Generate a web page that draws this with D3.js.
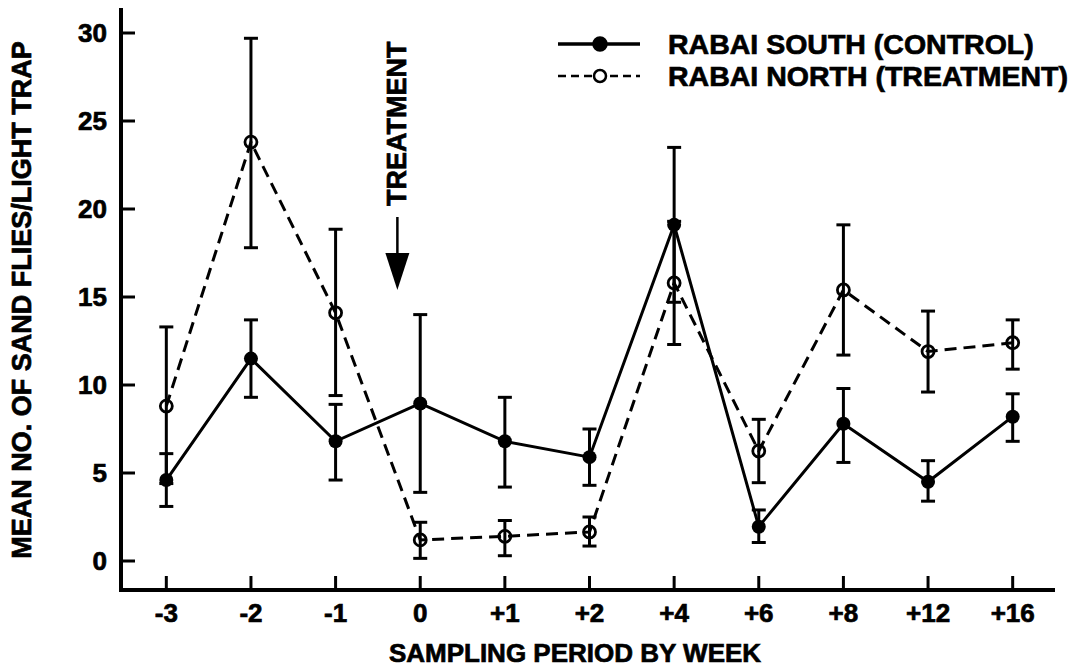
<!DOCTYPE html>
<html lang="en">
<head>
    <meta charset="UTF-8">
    <title>Sand flies per light trap</title>
    <script src="https://d3js.org/d3.v7.min.js"></script>
    <style>
        body { margin: 0; background: #fff; }
        text { font-family: "Liberation Sans", Arial, sans-serif; font-weight: bold; fill: #000; stroke: #000; stroke-width: 0.7px; }
    </style>
</head>
<body>
<div id="chart"></div>
<script type="text/javascript">
    // sampling periods (weeks relative to treatment)
    var weeks = ["-3", "-2", "-1", "0", "+1", "+2", "+4", "+6", "+8", "+12", "+16"];

    // Rabai South (control) - mean and error bar ends
    var southMean = [4.6, 11.5, 6.8, 8.95, 6.8, 5.9, 19.1, 1.95, 7.8, 4.5, 8.2];
    var southLow  = [3.1, 9.3, 4.6, 3.9, 4.2, 4.3, 14.7, 1.05, 5.6, 3.4, 6.8];
    var southHigh = [6.1, 13.7, 8.9, 14.0, 9.3, 7.5, 23.5, 2.9, 9.8, 5.7, 9.5];

    // Rabai North (treatment)
    var northMean = [8.8, 23.8, 14.1, 1.2, 1.4, 1.65, 15.8, 6.25, 15.4, 11.9, 12.4];
    var northLow  = [4.4, 17.8, 9.4, 0.15, 0.3, 0.85, 12.3, 4.45, 11.7, 9.6, 10.9];
    var northHigh = [13.3, 29.7, 18.85, 2.2, 2.3, 2.5, 19.3, 8.05, 19.1, 14.2, 13.7];

    var yTicks = [0, 5, 10, 15, 20, 25, 30];

    var width = 1079;
    var height = 670;

    var svg = d3.select("#chart")
        .append("svg")
        .attr("width", width)
        .attr("height", height);

    // scales
    var x = d3.scalePoint()
        .domain(weeks)
        .range([124, 1055])
        .padding(0.5);

    var y = d3.scaleLinear()
        .domain([0, 30])
        .range([561, 33]);

    var axisX0 = 121, axisY0 = 590;

    // axes lines
    svg.append("line")
        .attr("x1", axisX0).attr("x2", axisX0)
        .attr("y1", 8).attr("y2", axisY0 + 2)
        .attr("stroke", "#000").attr("stroke-width", 4);
    svg.append("line")
        .attr("x1", axisX0 - 2).attr("x2", 1055)
        .attr("y1", axisY0).attr("y2", axisY0)
        .attr("stroke", "#000").attr("stroke-width", 4);

    // y ticks + labels
    var yAxis = svg.append("g").attr("class", "y axis");
    yAxis.selectAll("line")
        .data(yTicks).enter()
        .append("line")
        .attr("x1", axisX0).attr("x2", axisX0 + 14)
        .attr("y1", function(d) { return y(d); })
        .attr("y2", function(d) { return y(d); })
        .attr("stroke", "#000").attr("stroke-width", 3);
    yAxis.selectAll("text")
        .data(yTicks).enter()
        .append("text")
        .attr("x", 107)
        .attr("y", function(d) { return y(d) + 9; })
        .attr("text-anchor", "end")
        .style("font-size", "26px")
        .text(function(d) { return d; });

    // x ticks + labels
    var xAxis = svg.append("g").attr("class", "x axis");
    xAxis.selectAll("line")
        .data(weeks).enter()
        .append("line")
        .attr("x1", function(d) { return x(d); })
        .attr("x2", function(d) { return x(d); })
        .attr("y1", axisY0).attr("y2", axisY0 - 14)
        .attr("stroke", "#000").attr("stroke-width", 3);
    xAxis.selectAll("text")
        .data(weeks).enter()
        .append("text")
        .attr("x", function(d) { return x(d); })
        .attr("y", 622)
        .attr("text-anchor", "middle")
        .style("font-size", "26px")
        .text(function(d) { return d; });

    // axis titles
    svg.append("text")
        .attr("x", 575)
        .attr("y", 662)
        .attr("text-anchor", "middle")
        .style("font-size", "26px")
        .text("SAMPLING PERIOD BY WEEK");

    svg.append("text")
        .attr("transform", "translate(31,300) rotate(-90)")
        .attr("text-anchor", "middle")
        .style("font-size", "27px")
        .text("MEAN NO. OF SAND FLIES/LIGHT TRAP");

    // build series
    function series(mean, low, high) {
        return weeks.map(function(w, i) {
            return { week: w, mean: mean[i], low: low[i], high: high[i] };
        });
    }
    var south = series(southMean, southLow, southHigh);
    var north = series(northMean, northLow, northHigh);

    var line = d3.line()
        .x(function(d) { return x(d.week); })
        .y(function(d) { return y(d.mean); });

    function errorBars(data, cls) {
        var g = svg.append("g").attr("class", cls);
        var e = g.selectAll("g").data(data).enter().append("g");
        e.append("line")
            .attr("x1", function(d) { return x(d.week); })
            .attr("x2", function(d) { return x(d.week); })
            .attr("y1", function(d) { return y(d.low); })
            .attr("y2", function(d) { return y(d.high); })
            .attr("stroke", "#000").attr("stroke-width", 3);
        ["low", "high"].forEach(function(k) {
            e.append("line")
                .attr("x1", function(d) { return x(d.week) - 7; })
                .attr("x2", function(d) { return x(d.week) + 7; })
                .attr("y1", function(d) { return y(d[k]); })
                .attr("y2", function(d) { return y(d[k]); })
                .attr("stroke", "#000").attr("stroke-width", 3);
        });
    }

    errorBars(north, "north-err");
    errorBars(south, "south-err");

    svg.append("path")
        .datum(north)
        .attr("d", line)
        .attr("fill", "none")
        .attr("stroke", "#000")
        .attr("stroke-width", 3)
        .attr("stroke-dasharray", "12,7");

    svg.append("path")
        .datum(south)
        .attr("d", line)
        .attr("fill", "none")
        .attr("stroke", "#000")
        .attr("stroke-width", 3);

    svg.selectAll("circle.north")
        .data(north).enter()
        .append("circle")
        .attr("class", "north")
        .attr("cx", function(d) { return x(d.week); })
        .attr("cy", function(d) { return y(d.mean); })
        .attr("r", 6)
        .attr("fill", "none")
        .attr("stroke", "#000")
        .attr("stroke-width", 2.8);

    svg.selectAll("circle.south")
        .data(south).enter()
        .append("circle")
        .attr("class", "south")
        .attr("cx", function(d) { return x(d.week); })
        .attr("cy", function(d) { return y(d.mean); })
        .attr("r", 7)
        .attr("fill", "#000");

    // treatment arrow, between week -1 and week 0
    var tx = x("-1") + 0.73 * x.step();
    svg.append("text")
        .attr("transform", "translate(" + (tx + 9) + ",206) rotate(-90)")
        .attr("text-anchor", "start")
        .style("font-size", "27px")
        .text("TREATMENT");
    svg.append("line")
        .attr("x1", tx).attr("x2", tx)
        .attr("y1", 217).attr("y2", 256)
        .attr("stroke", "#000").attr("stroke-width", 2.5);
    svg.append("path")
        .attr("d", "M" + (tx - 12) + ",253 L" + (tx + 12) + ",253 L" + tx + ",290 Z")
        .attr("fill", "#000");

    // legend
    var legend = svg.append("g").attr("class", "legend");
    var legItems = [
        { label: "RABAI SOUTH (CONTROL)", y: 44, dash: null },
        { label: "RABAI NORTH (TREATMENT)", y: 76, dash: "8,5" }
    ];
    legItems.forEach(function(it) {
        legend.append("line")
            .attr("x1", 558).attr("x2", 640)
            .attr("y1", it.y).attr("y2", it.y)
            .attr("stroke", "#000")
            .attr("stroke-width", it.dash ? 2.5 : 3.5)
            .attr("stroke-dasharray", it.dash);
        legend.append("circle")
            .attr("cx", 600).attr("cy", it.y)
            .attr("r", it.dash ? 6 : 6.5)
            .attr("fill", it.dash ? "#fff" : "#000")
            .attr("stroke", "#000")
            .attr("stroke-width", 2.5);
        legend.append("text")
            .attr("x", 668)
            .attr("y", it.y + 10)
            .style("font-size", "28.5px")
            .text(it.label);
    });
</script>
</body>
</html>
